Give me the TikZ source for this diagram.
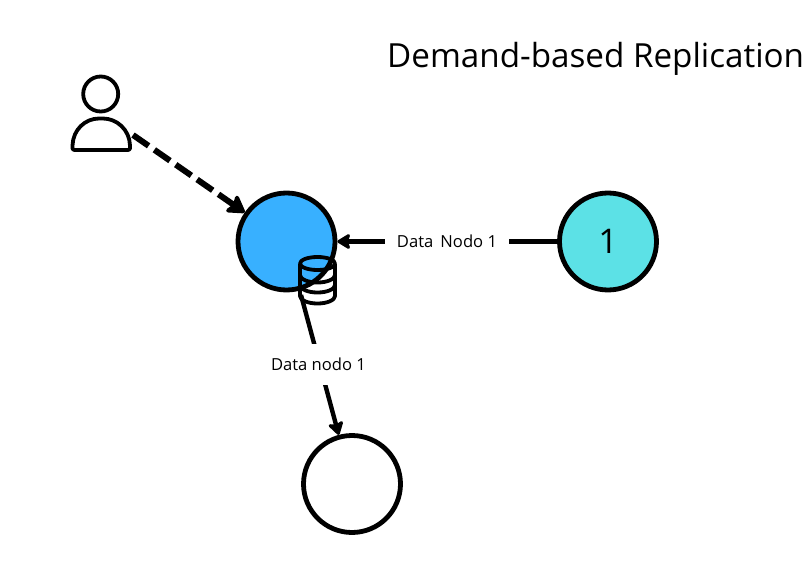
\documentclass[tikz,border=0pt]{standalone}
\usepackage{fontspec}
\setmainfont{Open Sans}
\usetikzlibrary{arrows.meta}
\tikzset{
  px/.style={x=1pt,y=-1pt},
  circ/.style={circle,draw=black,line width=4.8pt,minimum size=97pt,inner sep=0pt},
  lbl/.style={fill=white,font=\fontsize{16.6}{19}\selectfont,inner sep=0pt,minimum height=41pt},
  conn/.style={draw=black,line width=4.4pt,-{Stealth[length=15pt,width=18pt,inset=3pt,round]}},
  dashconn/.style={draw=black,line width=6pt,dash pattern=on 19pt off 7pt,-{Stealth[length=20pt,width=24pt,inset=4pt,round]}},
  icon/.style={draw=black,line width=3.8pt,line join=round}
}
\definecolor{cblue}{HTML}{38B0FF}
\definecolor{cteal}{HTML}{5CE1E6}
\begin{document}
\begin{tikzpicture}[px]
\useasboundingbox (0,0) rectangle (808,572);
\node[anchor=west,inner sep=0pt,font=\fontsize{33.2}{38}\selectfont] (title) at (387,59) {Demand-based Replication};
\node[circ,fill=cblue] (a) at (286.5,241.5) {};
\node[circ,fill=cteal,font=\fontsize{34}{38}\selectfont] (b) at (608,241.5) {1};
\node[circ,fill=white] (c) at (352,484) {};
\coordinate (us) at (133,135);
\coordinate (ca) at (301,295);
\draw[icon] (100.7,94) circle (17.5);
\draw[icon,rounded corners=2pt] (72.5,150) -- (72.5,147) .. controls (73,130) and (85,118.5) .. (101,118.5) .. controls (117,118.5) and (129.5,130) .. (130,147) -- (130,150) -- cycle;
\draw[dashconn] (us) -- (a);
\draw[conn] (b) -- (a);
\draw[conn] (ca) -- (c);
\node[lbl,minimum width=124pt] (l1) at (447,241.5) {Data\, Nodo 1};
\node[lbl,inner xsep=3pt] (l2) at (318.5,364) {Data nodo 1};
\draw[icon] (300,263.5) -- (300,296) arc[start angle=180,end angle=0,x radius=17.5,y radius=7.5] -- (335,263.5);
\draw[icon] (317.5,263.5) ellipse[x radius=17.5,y radius=6.5];
\draw[icon] (300,275) arc[start angle=180,end angle=0,x radius=17.5,y radius=7.5];
\draw[icon] (300,285) arc[start angle=180,end angle=0,x radius=17.5,y radius=7.5];
\end{tikzpicture}
\end{document}
